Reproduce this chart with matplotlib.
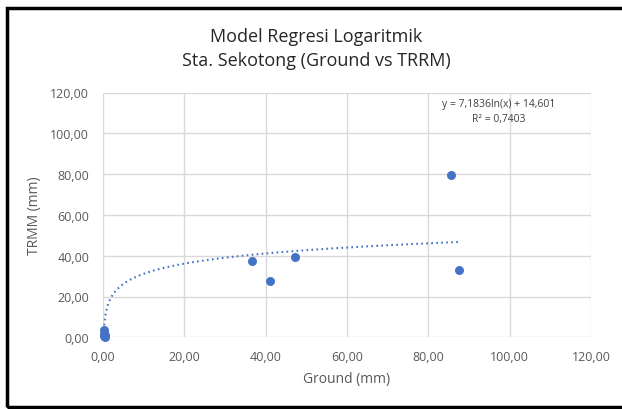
import matplotlib.pyplot as plt
import numpy as np
from matplotlib.patches import Rectangle
from matplotlib.ticker import FuncFormatter

# data
ground = [0.15, 0.2, 0.3, 0.4, 0.5, 36.7, 41.1, 47.2, 85.5, 87.6]
trmm = [0.8, 3.6, 1.8, 0.3, 1.2, 37.4, 27.4, 39.5, 79.6, 33.0]

# trendline coefficients shown on the chart
coef_a = 7.1836
coef_b = 14.601
r2_text = '0,7403'

blue = '#4472C4'
grey_text = '#595959'
grid_col = '#D9D9D9'
font = 'Open Sans'

fig = plt.figure(figsize=(6.22, 4.10), dpi=100)
ax = fig.add_axes([103 / 622, 1 - 338.3 / 410, 488 / 622, 244.8 / 410])

ax.scatter(ground, trmm, s=42, color=blue, zorder=3, linewidths=0, clip_on=False)

xs = np.linspace(min(ground), max(ground), 400)
ax.plot(xs, coef_a * np.log(xs) + coef_b, color=blue, lw=1.5,
        linestyle=(0, (0.8, 1.6)), zorder=2)

ax.set_xlim(0, 120)
ax.set_ylim(0, 120)
ax.set_xticks(np.arange(0, 121, 20))
ax.set_yticks(np.arange(0, 121, 20))
fmt = FuncFormatter(lambda v, p: f'{v:.2f}'.replace('.', ','))
ax.xaxis.set_major_formatter(fmt)
ax.yaxis.set_major_formatter(fmt)
ax.grid(True, color=grid_col, lw=1)
ax.set_axisbelow(True)
for s in ax.spines.values():
    s.set_visible(False)
ax.tick_params(length=0, labelsize=9, labelcolor=grey_text)
ax.tick_params(axis='x', pad=9)
ax.tick_params(axis='y', pad=10)
for lab in ax.get_xticklabels() + ax.get_yticklabels():
    lab.set_fontfamily(font)

ax.set_xlabel('Ground (mm)', fontsize=10, color=grey_text, family=font, labelpad=6)
ax.set_ylabel('TRMM (mm)', fontsize=10, color=grey_text, family=font, labelpad=6)

fig.text(499 / 622, 1 - 112 / 410,
         f'y = {coef_a:.4f}ln(x) + {coef_b:.3f}'.replace('.', ',') + '\n'
         + f'R² = {r2_text}',
         ha='center', va='center', fontsize=7.5, color='#404040', family=font,
         linespacing=1.5)

fig.text(316 / 622, 1 - 49 / 410,
         'Model Regresi Logaritmik\nSta. Sekotong (Ground vs TRRM)',
         ha='center', va='center', fontsize=13, color='#262626', family=font,
         linespacing=1.45)

# outer black frame
fig.patches.append(Rectangle((6.5 / 622, 1 - 408 / 410), 1.0, 399 / 410,
                             transform=fig.transFigure, fill=False,
                             edgecolor='black', lw=2.5, zorder=10))

fig.savefig('out.png', dpi=100)
